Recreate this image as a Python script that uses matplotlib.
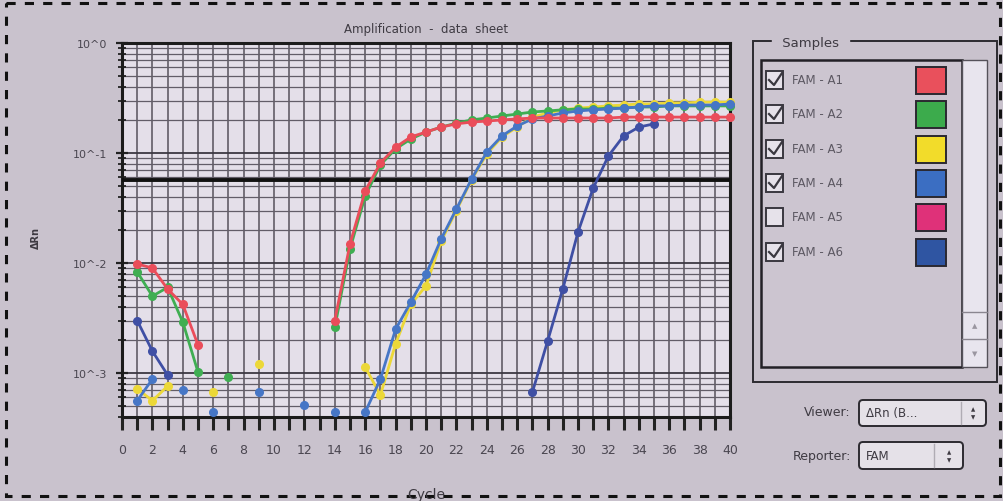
import numpy as np
import matplotlib.pyplot as plt
from matplotlib.patches import Rectangle, FancyBboxPatch
from matplotlib.ticker import MultipleLocator, FixedLocator, NullFormatter

nan = np.nan

# cycle numbers 1..40
cycles = np.arange(1, 41)

# delta Rn per cycle, NaN where the value was not drawn (below zero)
fam_a1 = [0.0098, 0.0090, 0.0058, 0.0042, 0.0018, nan, nan, nan, nan, nan,
          nan, nan, nan, 0.0030, 0.0149, 0.0452, 0.081, 0.113, 0.140, 0.155,
          0.172, 0.184, 0.191, 0.195, 0.200, 0.204, 0.208, 0.208, 0.208, 0.208,
          0.208, 0.208, 0.212, 0.212, 0.212, 0.212, 0.212, 0.212, 0.212, 0.212]
fam_a2 = [0.0083, 0.0050, 0.0060, 0.0029, 0.00102, nan, 0.00092, nan, nan, nan,
          nan, nan, nan, 0.0026, 0.0134, 0.0407, 0.078, 0.109, 0.134, 0.155,
          0.172, 0.187, 0.200, 0.208, 0.217, 0.226, 0.236, 0.241, 0.247, 0.251,
          0.251, 0.256, 0.256, 0.262, 0.262, 0.268, 0.268, 0.268, 0.268, 0.268]
fam_a3 = [0.00072, 0.00056, 0.00076, nan, nan, 0.00067, nan, nan, 0.0012, nan,
          nan, nan, nan, nan, nan, 0.00113, 0.00063, 0.00184, 0.0042, 0.0062,
          0.0158, 0.030, 0.057, 0.098, 0.140, 0.172, 0.212, 0.231, 0.247, 0.256,
          0.262, 0.268, 0.273, 0.279, 0.279, 0.285, 0.285, 0.290, 0.290, 0.290]
fam_a4 = [0.00056, 0.00088, nan, 0.00070, nan, 0.00044, nan, nan, 0.00067, nan,
          nan, 0.00051, nan, 0.00044, nan, 0.00044, 0.00088, 0.0025, 0.0044, 0.0079,
          0.0166, 0.031, 0.058, 0.102, 0.143, 0.176, 0.204, 0.217, 0.231, 0.241,
          0.247, 0.251, 0.256, 0.262, 0.268, 0.268, 0.273, 0.273, 0.273, 0.279]
fam_a6 = [0.0030, 0.00158, 0.00096, nan, nan, nan, nan, nan, nan, nan,
          nan, nan, nan, nan, nan, nan, nan, nan, nan, nan,
          nan, nan, nan, nan, nan, nan, 0.00067, 0.00195, 0.0058, 0.0191,
          0.048, 0.094, 0.143, 0.172, 0.184, nan, nan, nan, nan, nan]

threshold = 0.057

sample_names = ['FAM - A1', 'FAM - A2', 'FAM - A3', 'FAM - A4', 'FAM - A5', 'FAM - A6']
sample_checked = [True, True, True, True, False, True]
swatch_colors = ['#e9505c', '#3cab4c', '#f2dc2a', '#3b6ec2', '#df3179', '#2f55a2']

y_ticks = [1e0, 1e-1, 1e-2, 1e-3]
y_tick_labels = ['10^0', '10^-1', '10^-2', '10^-3']

W, H = 1004, 502
bg = '#c9c2cd'
ink = '#3e3a42'

fig = plt.figure(figsize=(W / 100, H / 100), dpi=100, facecolor=bg)

# pixel-space layer for the window chrome
ui = fig.add_axes([0, 0, 1, 1], zorder=0)
ui.set_xlim(0, W)
ui.set_ylim(H, 0)
ui.axis('off')

# plot
ax = fig.add_axes([122 / W, 1 - 418 / H, (730 - 122) / W, (418 - 44) / H], zorder=2)
ax.set_facecolor('#e4dfe9')
ax.set_yscale('log')
ax.set_xlim(0, 40)
ax.set_ylim(10 ** -3.4, 1)

ax.xaxis.set_major_locator(MultipleLocator(2))
ax.xaxis.set_minor_locator(MultipleLocator(1))
ax.yaxis.set_major_locator(FixedLocator(y_ticks))
ax.set_yticklabels(y_tick_labels)
ax.yaxis.set_minor_formatter(NullFormatter())

ax.grid(which='major', axis='x', color='#56515c', lw=1.1)
ax.grid(which='minor', axis='x', color='#56515c', lw=1.1)
ax.grid(which='major', axis='y', color='#3c3842', lw=1.3)
ax.grid(which='minor', axis='y', color='#625d68', lw=0.9)
ax.set_axisbelow(True)

ax.tick_params(axis='x', which='both', direction='out', length=9, width=2.2,
               color='#222222', labelsize=9, labelcolor='#4a4650', pad=10)
ax.tick_params(axis='y', which='major', direction='inout', length=9, width=1.6,
               color='#222222', labelsize=8, labelcolor='#4a4650', pad=6)
ax.tick_params(axis='y', which='minor', direction='inout', length=6, width=1.3,
               color='#222222')
for s in ax.spines.values():
    s.set_linewidth(2.2)
    s.set_color('#1c1c1c')

ax.axhline(threshold, color='#111111', lw=2.8, zorder=3)

series = [(fam_a3, '#ecd838'), (fam_a2, '#3fae52'), (fam_a4, '#4676c6'),
          (fam_a6, '#3f4fa4'), (fam_a1, '#ea4d5a')]
for vals, col in series:
    ax.plot(cycles, vals, '-o', color=col, lw=2.0, ms=5.5, zorder=4, clip_on=False)

ax.set_title('Amplification  -  data  sheet', fontsize=8.5, color=ink, pad=8)
ax.set_xlabel('Cycle', fontsize=10, color=ink, labelpad=22)
ui.text(36, 238, '\u0394Rn', rotation=90, fontsize=7, fontweight='bold',
        color=ink, ha='center', va='center')

# Samples group box
ui.add_patch(Rectangle((753, 42), 244, 341, fill=False, ec='#2c2a30', lw=1.4))
ui.text(778, 44, ' Samples ', fontsize=9.5, color=ink, va='center',
        backgroundcolor=bg)
ui.add_patch(Rectangle((761, 61), 201, 307, fc='#ccc5d0', ec='#222026', lw=1.8))
ui.add_patch(Rectangle((962, 61), 25, 307, fc='#e8e5ee', ec='#55525a', lw=1.0))
ui.plot([962, 987], [313, 313], color='#8a8690', lw=1)
ui.plot([962, 987], [340, 340], color='#8a8690', lw=1)
ui.text(975, 326, '\u25b2', fontsize=5, color='#9a96a0', ha='center', va='center')
ui.text(975, 354, '\u25bc', fontsize=5, color='#9a96a0', ha='center', va='center')

row_y = [81, 115, 150, 184, 218, 253]
for name, checked, col, y in zip(sample_names, sample_checked, swatch_colors, row_y):
    ui.add_patch(Rectangle((766, y - 9), 17, 18, fc='#e6e2ea', ec='#3a3840', lw=1.4))
    if checked:
        ui.plot([769, 774, 782], [y, y + 5, y - 7], color='#3a3840', lw=1.6)
    ui.text(792, y, name, fontsize=8.5, color='#5c5862', va='center')
    ui.add_patch(Rectangle((916, y - 13), 30, 27, fc=col, ec='#2a2830', lw=1.4))

# Viewer / Reporter dropdowns
ui.text(851, 413, 'Viewer:', fontsize=9, color=ink, ha='right', va='center')
ui.add_patch(FancyBboxPatch((859, 401), 127, 26, boxstyle='round,pad=0,rounding_size=4',
                            fc='#e5e1e8', ec='#2c2a30', lw=1.4))
ui.plot([961, 961], [403, 425], color='#b0acb4', lw=1)
ui.text(866, 414, '\u0394Rn (B...', fontsize=8.5, color=ink, va='center')
ui.text(973, 410, '\u25b2', fontsize=4, color=ink, ha='center', va='center')
ui.text(973, 418, '\u25bc', fontsize=4, color=ink, ha='center', va='center')

ui.text(851, 457, 'Reporter:', fontsize=9, color=ink, ha='right', va='center')
ui.add_patch(FancyBboxPatch((859, 443), 104, 27, boxstyle='round,pad=0,rounding_size=4',
                            fc='#e5e1e8', ec='#2c2a30', lw=1.4))
ui.plot([934, 934], [445, 468], color='#b0acb4', lw=1)
ui.text(866, 457, 'FAM', fontsize=8.5, color=ink, va='center')
ui.text(949, 453, '\u25b2', fontsize=4, color=ink, ha='center', va='center')
ui.text(949, 461, '\u25bc', fontsize=4, color=ink, ha='center', va='center')

# dashed frame round the picture
ui.add_patch(Rectangle((6, 4), W - 10, H - 9, fill=False, ec='#111111', lw=2.2,
                       ls=(0, (3, 3))))

fig.savefig('out.png', dpi=100, facecolor=bg)
